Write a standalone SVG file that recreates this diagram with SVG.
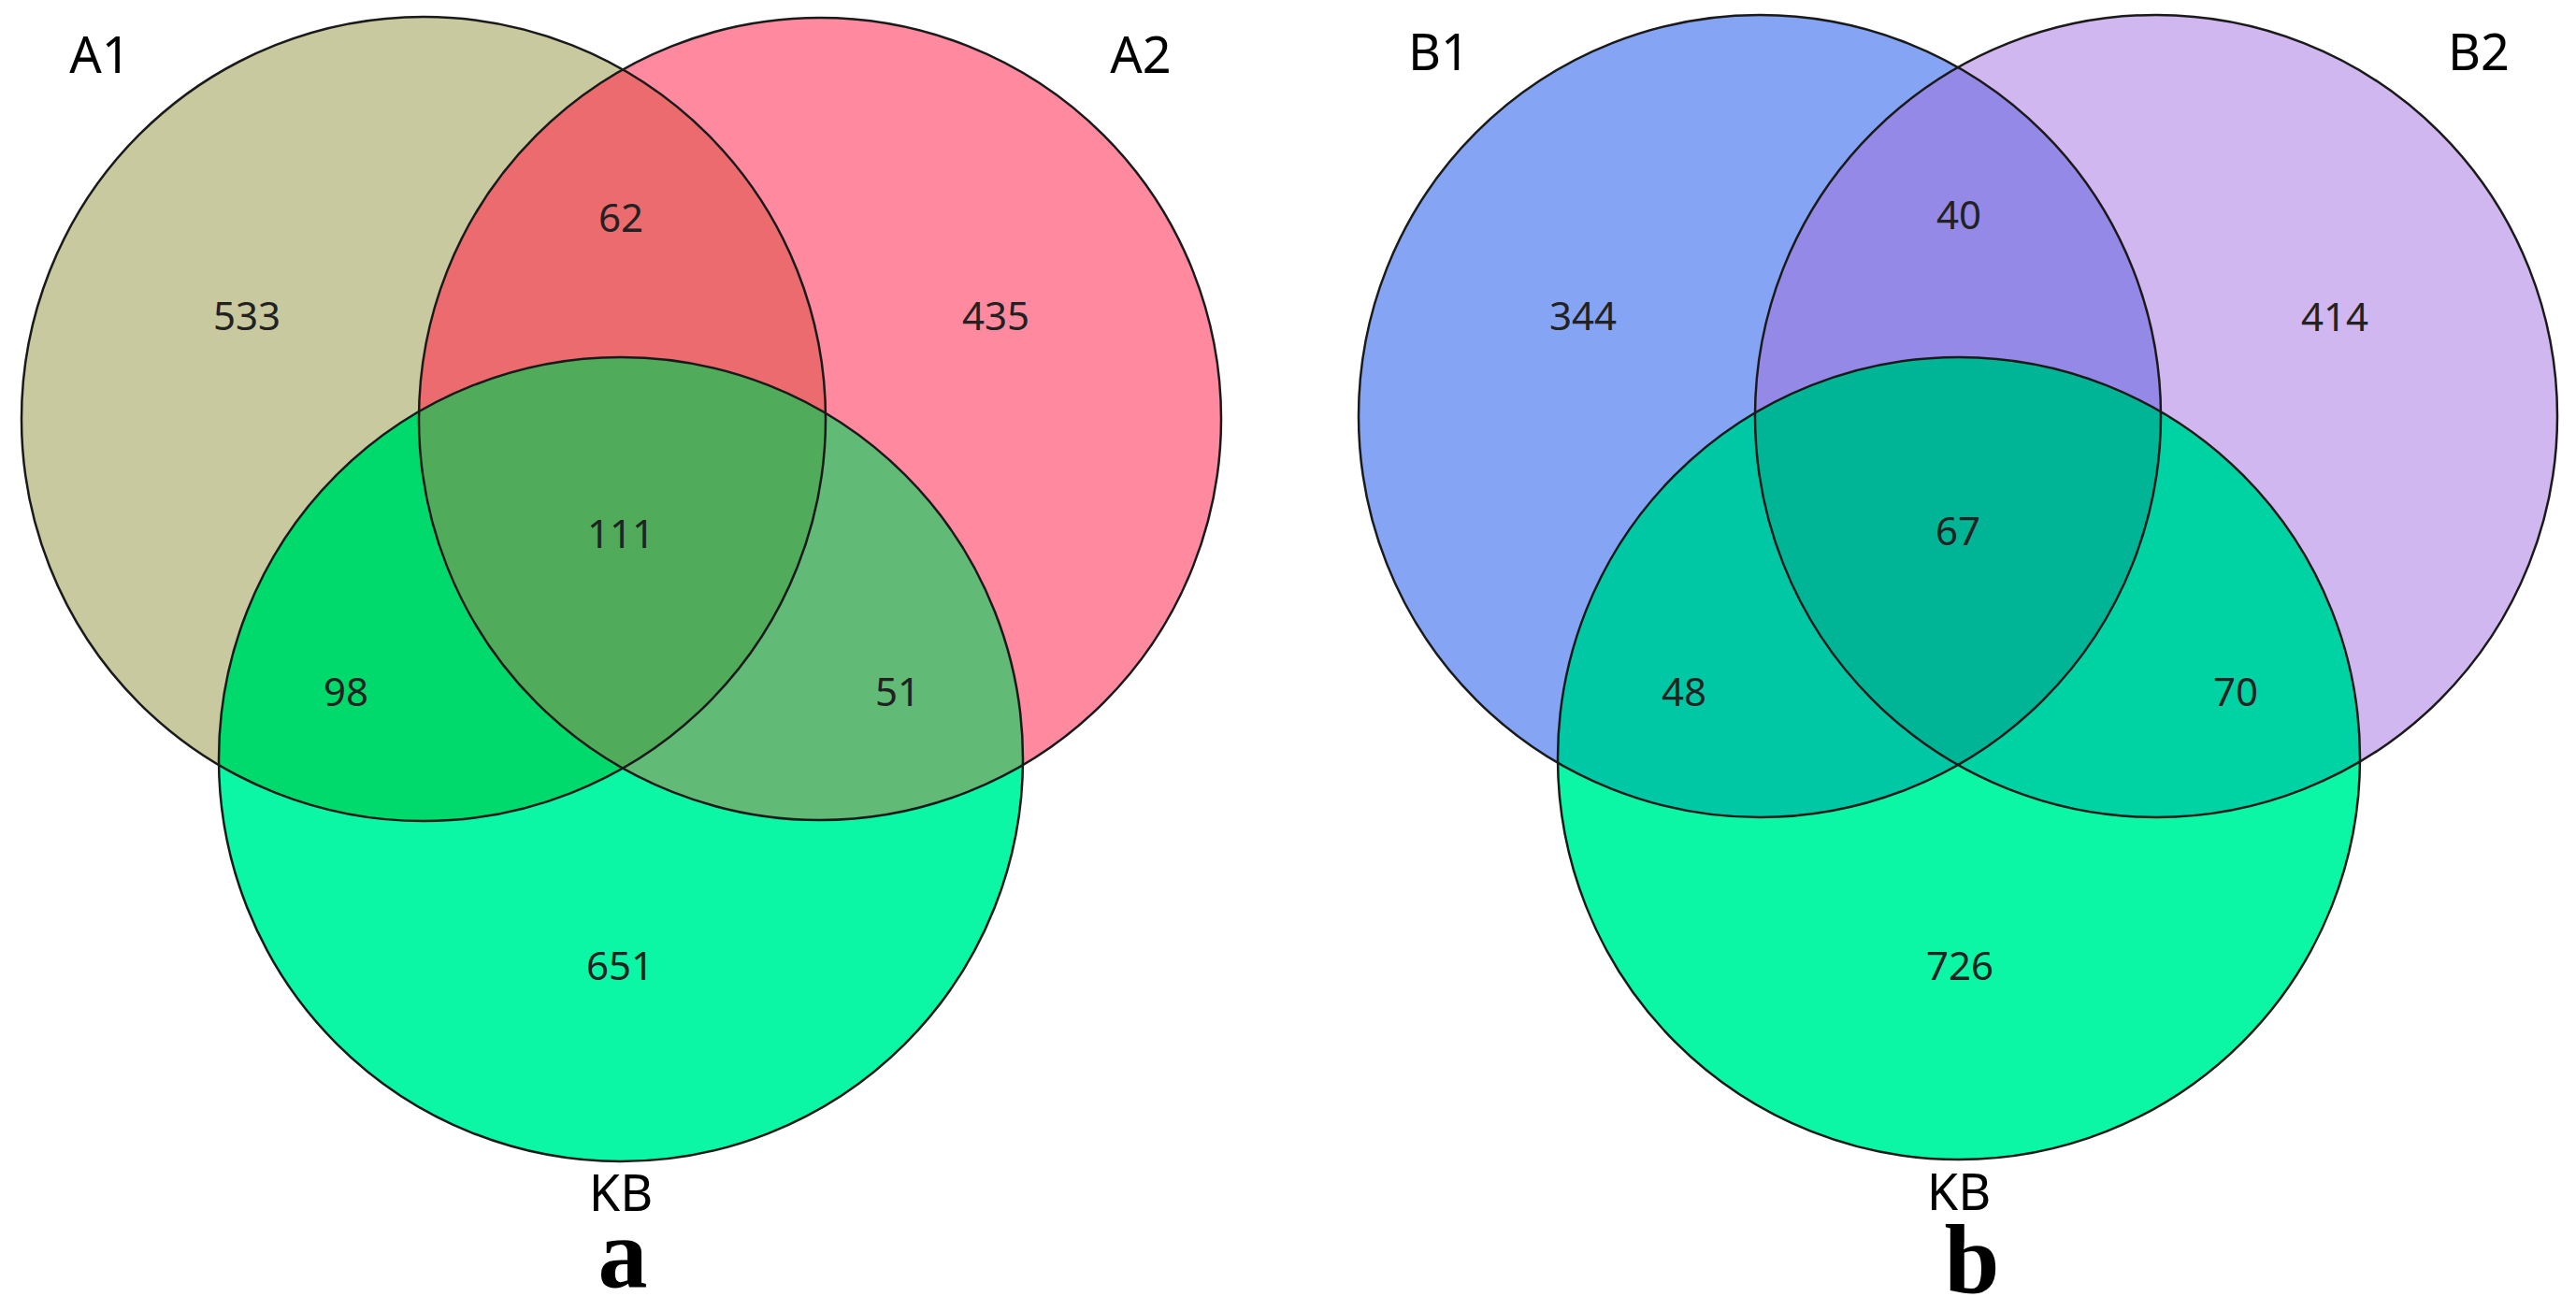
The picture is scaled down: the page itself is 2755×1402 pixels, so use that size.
<svg xmlns="http://www.w3.org/2000/svg" width="2755" height="1402" viewBox="0 0 2755 1402">
<style>
.ol{fill:none;stroke:#1a1a1a;stroke-width:2.5}
.num{font-family:"Noto Sans","Liberation Sans",sans-serif;font-size:42px;fill:#222;text-anchor:middle}
.lab{font-family:"Noto Sans","Liberation Sans",sans-serif;font-size:54px;fill:#000;text-anchor:middle}
.pan{font-family:"Liberation Serif","Times New Roman",serif;font-size:106px;font-weight:bold;fill:#000;text-anchor:middle}
</style>
<defs>
<clipPath id="cA1"><circle cx="453" cy="448" r="430"/></clipPath>
<clipPath id="cA2"><circle cx="877" cy="448" r="429"/></clipPath>
<clipPath id="cB1"><circle cx="1882" cy="445" r="429"/></clipPath>
<clipPath id="cB2"><circle cx="2306" cy="445" r="429"/></clipPath>
</defs>
<rect width="2755" height="1402" fill="#fff"/>

<g id="venn-a">
  <g id="A1"><circle cx="453" cy="448" r="430" fill="#c8c99e"/></g>
  <g id="A2"><circle cx="877" cy="448" r="429" fill="#ff8a9f"/></g>
  <g id="KB-a"><circle cx="664" cy="812" r="430" fill="#0bf7a6"/></g>
  <g id="A1xA2" clip-path="url(#cA1)"><circle cx="877" cy="448" r="429" fill="#ec6b6e"/></g>
  <g id="A1xKB" clip-path="url(#cA1)"><circle cx="664" cy="812" r="430" fill="#00d96b"/></g>
  <g id="A2xKB" clip-path="url(#cA2)"><circle cx="664" cy="812" r="430" fill="#61ba76"/></g>
  <g clip-path="url(#cA1)"><g id="A1xA2xKB" clip-path="url(#cA2)"><circle cx="664" cy="812" r="430" fill="#50ac5a"/></g></g>
  <circle class="ol" cx="453" cy="448" r="430"/>
  <circle class="ol" cx="877" cy="448" r="429"/>
  <circle class="ol" cx="664" cy="812" r="430"/>
  <text class="lab" x="107" y="78">A1</text>
  <text class="lab" x="1220" y="78">A2</text>
  <text class="lab" x="664" y="1295">KB</text>
  <text class="num" x="264" y="353">533</text>
  <text class="num" x="664" y="248">62</text>
  <text class="num" x="1065" y="353">435</text>
  <text class="num" x="664" y="586">111</text>
  <text class="num" x="370" y="755">98</text>
  <text class="num" x="960" y="755">51</text>
  <text class="num" x="663" y="1048">651</text>
  <text class="pan" x="666" y="1376">a</text>
</g>

<g id="venn-b">
  <g id="B1"><circle cx="1882" cy="445" r="429" fill="#86a4f4"/></g>
  <g id="B2"><circle cx="2306" cy="445" r="429" fill="#d0b7ef"/></g>
  <g id="KB-b"><circle cx="2095" cy="811" r="429" fill="#0bf7a6"/></g>
  <g id="B1xB2" clip-path="url(#cB1)"><circle cx="2306" cy="445" r="429" fill="#9489e7"/></g>
  <g id="B1xKB" clip-path="url(#cB1)"><circle cx="2095" cy="811" r="429" fill="#00c8a5"/></g>
  <g id="B2xKB" clip-path="url(#cB2)"><circle cx="2095" cy="811" r="429" fill="#00d3a3"/></g>
  <g clip-path="url(#cB1)"><g id="B1xB2xKB" clip-path="url(#cB2)"><circle cx="2095" cy="811" r="429" fill="#00b596"/></g></g>
  <circle class="ol" cx="1882" cy="445" r="429"/>
  <circle class="ol" cx="2306" cy="445" r="429"/>
  <circle class="ol" cx="2095" cy="811" r="429"/>
  <text class="lab" x="1539" y="75">B1</text>
  <text class="lab" x="2651" y="75">B2</text>
  <text class="lab" x="2095" y="1294">KB</text>
  <text class="num" x="1693" y="353">344</text>
  <text class="num" x="2095" y="245">40</text>
  <text class="num" x="2497" y="354">414</text>
  <text class="num" x="2094" y="583">67</text>
  <text class="num" x="1801" y="755">48</text>
  <text class="num" x="2391" y="755">70</text>
  <text class="num" x="2096" y="1048">726</text>
  <text class="pan" x="2109" y="1383">b</text>
</g>
</svg>
